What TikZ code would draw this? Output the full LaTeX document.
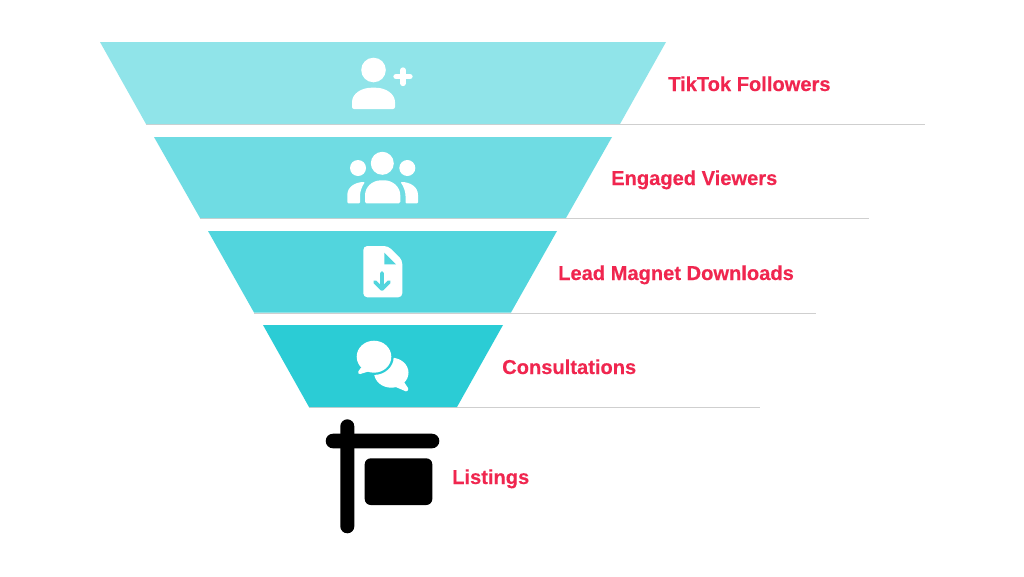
\documentclass[tikz,border=0pt]{standalone}
\usepackage{fontspec}
\setmainfont[FakeBold=0.25]{Liberation Sans}
\setmainfont[BoldFont={Liberation Sans Bold},BoldFeatures={FakeBold=0.3}]{Liberation Sans}
\definecolor{tA}{HTML}{90E4E9}
\definecolor{tB}{HTML}{6FDCE3}
\definecolor{tC}{HTML}{52D5DD}
\definecolor{tD}{HTML}{2BCCD5}
\definecolor{lab}{HTML}{F0264F}
\definecolor{rule}{HTML}{CFCFCF}
\tikzset{
  lbl/.style={anchor=base west,inner sep=0pt,text=lab,font=\fontsize{20.1}{24}\selectfont\bfseries},
  guide/.style={draw=rule,line width=1pt},
  ico/.style={fill=white,draw=none}
}
\begin{document}
\begin{tikzpicture}[x=1pt,y=-1pt]
\useasboundingbox (0,0) rectangle (1024,576);
\fill[white] (0,0) rectangle (1024,576);
% guide lines
\coordinate (g1a) at (146,124.5); \coordinate (g1b) at (925,124.5);
\coordinate (g2a) at (200,218.5); \coordinate (g2b) at (869,218.5);
\coordinate (g3a) at (254,313);   \coordinate (g3b) at (816,313);
\coordinate (g4a) at (309,407.5); \coordinate (g4b) at (760,407.5);
\draw[guide] (g1a) -- (g1b);
\draw[guide] (g2a) -- (g2b);
\draw[guide] (g3a) -- (g3b);
\draw[guide] (g4a) -- (g4b);
% funnel
\fill[tA] (100,42) -- (666,42) -- (620,124) -- (146,124) -- cycle;
\fill[tB] (154,137) -- (612,137) -- (566,218) -- (200,218) -- cycle;
\fill[tC] (208,231) -- (557,231) -- (511,312.5) -- (254,312.5) -- cycle;
\fill[tD] (263,325) -- (503,325) -- (457,407) -- (309,407) -- cycle;
% person plus
\fill[ico] (373.5,70) circle (12.3);
\fill[ico,rounded corners=2] (352,109) -- (352,104) .. controls (352,94) and (361,87.7) .. (373.5,87.7) .. controls (386,87.7) and (395,94) .. (395,104) -- (395,109) -- cycle;
\draw[white,line width=5.3pt,line cap=round] (396,76.7) -- (410,76.7) (403,70) -- (403,83.5);
% group
\fill[ico] (382.3,163.3) circle (11.5);
\fill[ico] (358,168) circle (8);
\fill[ico] (407.3,168) circle (8);
\fill[ico,rounded corners=1.5] (365,203.3) -- (365,197) .. controls (365,187) and (372,180.3) .. (382.7,180.3) .. controls (393,180.3) and (400.3,187) .. (400.3,197) -- (400.3,203.3) -- cycle;
\fill[ico,rounded corners=1] (347.3,203.3) -- (347.3,196) .. controls (347.3,187) and (355,182) .. (365,182) .. controls (361.5,187) and (360,192) .. (360,197) -- (360,203.3) -- cycle;
\fill[ico,rounded corners=1] (418,203.3) -- (418,196) .. controls (418,187) and (410.5,182) .. (400.5,182) .. controls (404,187) and (405.5,192) .. (405.5,197) -- (405.5,203.3) -- cycle;
% file download
\fill[ico,rounded corners=4] (363.3,246) -- (388,246) -- (402.3,260) -- (402.3,297.3) -- (363.3,297.3) -- cycle;
\fill[tC] (384.3,252.7) -- (396,264.3) -- (384.3,264.3) -- cycle;
\draw[tC,line width=3.8pt,line cap=round,line join=round] (382,273) -- (382,289) (375,282) -- (382,289) -- (389,282);
% chat
\fill[ico] (391.3,372.7) ellipse (17.2 and 15);
\fill[ico,rounded corners=1] (402.7,380) -- (408.7,389) -- (406.7,391.7) -- (395,386.7) -- cycle;
\fill[tD] (374,356.7) ellipse (19.7 and 18.2);
\fill[ico] (374,356.7) ellipse (17.3 and 16);
\fill[ico,rounded corners=1] (361.7,366.7) -- (357.7,372.3) -- (359.3,374.3) -- (370,371) -- cycle;
% sign
\fill[black,rounded corners=7] (340.3,419.3) rectangle (354.3,533.3);
\fill[black,rounded corners=7.3] (325.7,433.7) rectangle (439.3,448.3);
\fill[black,rounded corners=6] (364.7,458.3) rectangle (432.3,505);
% labels
\node[lbl] (l1) at (668,91) {TikTok Followers};
\node[lbl] (l2) at (611,185) {Engaged Viewers};
\node[lbl] (l3) at (558,280) {Lead Magnet Downloads};
\node[lbl] (l4) at (502,374) {Consultations};
\node[lbl] (l5) at (452,484) {Listings};
\end{tikzpicture}
\end{document}
